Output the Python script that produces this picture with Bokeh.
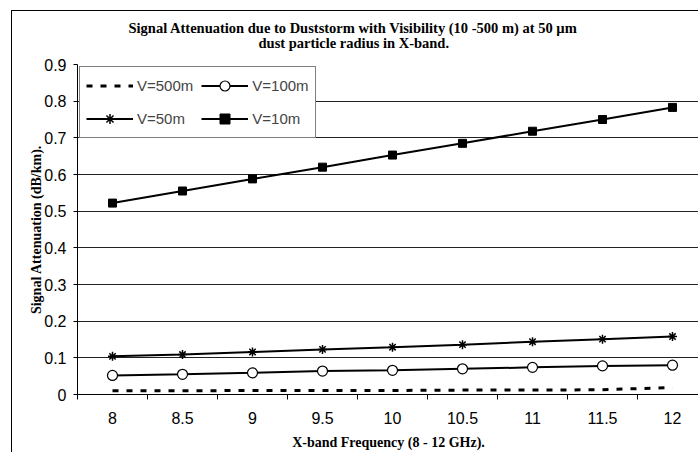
from bokeh.plotting import figure
from bokeh.models import Legend, LegendItem, FixedTicker, Range1d, Title, Grid
from bokeh.embed import file_html
from bokeh.resources import INLINE

# ---- data ----
freq = [8, 8.5, 9, 9.5, 10, 10.5, 11, 11.5, 12]
v500 = [0.010, 0.010, 0.011, 0.011, 0.011, 0.012, 0.012, 0.013, 0.019]
v100 = [0.052, 0.055, 0.059, 0.064, 0.066, 0.070, 0.074, 0.078, 0.080]
v50 = [0.104, 0.109, 0.116, 0.123, 0.129, 0.136, 0.144, 0.151, 0.158]
v10 = [0.522, 0.555, 0.588, 0.620, 0.653, 0.685, 0.718, 0.750, 0.783]
y_ticks = [0, 0.1, 0.2, 0.3, 0.4, 0.5, 0.6, 0.7, 0.8, 0.9]
y_labels = ["0", "0.1", "0.2", "0.3", "0.4", "0.5", "0.6", "0.7", "0.8", "0.9"]
x_labels = ["8", "8.5", "9", "9.5", "10", "10.5", "11", "11.5", "12"]
title1 = "Signal Attenuation due to Duststorm with Visibility (10 -500 m) at 50 \u00b5m"
title2 = "dust particle radius in X-band."

step = 0.5
x_start = freq[0] - step / 2
frame_w = 622
px_per_unit = 140.0
x_end = x_start + frame_w / px_per_unit

p = figure(width=687, height=442, output_backend="svg", toolbar_location=None,
           x_range=Range1d(x_start, x_end), y_range=Range1d(0, 0.9),
           min_border_left=65, min_border_right=0, min_border_top=53,
           min_border_bottom=59, title=None)
p.styles = {"margin-left": "11px", "margin-top": "10px",
            "border-left": "1px solid black", "border-top": "1px solid black"}
p.background_fill_color = "white"
p.border_fill_color = "white"
p.outline_line_color = None

# axes
xa = p.xaxis[0]
xa.ticker = FixedTicker(ticks=freq,
                        minor_ticks=[f - step / 2 for f in freq] + [freq[-1] + step / 2])
xa.major_label_overrides = {f: l for f, l in zip(freq, x_labels)}
xa.major_tick_out = 0
xa.major_tick_in = 0
xa.minor_tick_out = 5
xa.minor_tick_in = 0
xa.major_label_standoff = 12
xa.major_label_text_font = "Liberation Sans"
xa.major_label_text_font_size = "16px"
xa.major_label_text_color = "black"
xa.axis_line_color = "black"
xa.minor_tick_line_color = "black"
xa.axis_label = "X-band Frequency (8 - 12 GHz)."
xa.axis_label_text_font = "Liberation Serif"
xa.axis_label_text_font_style = "bold"
xa.axis_label_text_font_size = "14px"
xa.axis_label_standoff = 8
xa.axis_label_text_color = "black"

ya = p.yaxis[0]
ya.ticker = FixedTicker(ticks=y_ticks, minor_ticks=[])
ya.major_label_overrides = {t: l for t, l in zip(y_ticks, y_labels)}
ya.major_tick_out = 4
ya.major_tick_in = 0
ya.minor_tick_out = 0
ya.major_label_standoff = 7
ya.major_label_text_font = "Liberation Sans"
ya.major_label_text_font_size = "16px"
ya.major_label_text_color = "black"
ya.axis_line_color = "black"
ya.major_tick_line_color = "black"
ya.axis_label = "Signal Attenuation (dB/km)."
ya.axis_label_text_font = "Liberation Serif"
ya.axis_label_text_font_style = "bold"
ya.axis_label_text_font_size = "14px"
ya.axis_label_standoff = -3
ya.axis_label_text_color = "black"

p.xgrid.grid_line_color = None
p.ygrid.ticker = FixedTicker(ticks=y_ticks[1:-1])
p.ygrid.grid_line_color = "#222222"
p.ygrid.grid_line_width = 1
top_grid = Grid(dimension=1, ticker=FixedTicker(ticks=y_ticks[-1:]),
                grid_line_color="#888888", grid_line_width=1.5)
p.add_layout(top_grid)

# series
l500 = p.line(freq, v500, line_color="black", line_width=3, line_dash="6 8")
l100 = p.line(freq, v100, line_color="black", line_width=2)
m100 = p.scatter(freq, v100, marker="circle", size=10, fill_color="white",
                 line_color="black", line_width=1.2)
l50 = p.line(freq, v50, line_color="black", line_width=2)
m50 = p.scatter(freq, v50, marker="asterisk", size=9, line_color="black",
                line_width=1.5)
l10 = p.line(freq, v10, line_color="black", line_width=2)
m10 = p.scatter(freq, v10, marker="square", size=8, fill_color="black",
                line_color="black")

legend = Legend(items=[
    LegendItem(label="V=500m", renderers=[l500]),
    LegendItem(label="V=100m", renderers=[l100, m100]),
    LegendItem(label="V=50m", renderers=[l50, m50]),
    LegendItem(label="V=10m", renderers=[l10, m10]),
], location="top_left", orientation="horizontal", ncols=2, margin=2,
    padding=6, spacing=8, glyph_width=47, glyph_height=25, label_height=25,
    label_standoff=4, label_text_font="Liberation Sans",
    label_text_font_size="15px", border_line_color="black",
    border_line_width=1, background_fill_color="white", background_fill_alpha=1)
p.add_layout(legend, "center")

# title: two lines, centred on the chart area
p.add_layout(Title(text=title2, align="left", offset=181, standoff=27,
                   text_font="Liberation Serif", text_font_style="bold",
                   text_font_size="14.5px", text_color="black"), "above")
p.add_layout(Title(text=title1, align="left", offset=51, standoff=-32,
                   text_font="Liberation Serif", text_font_style="bold",
                   text_font_size="14.5px", text_color="black"), "above")

open("out.html", "w").write(file_html(p, INLINE))
